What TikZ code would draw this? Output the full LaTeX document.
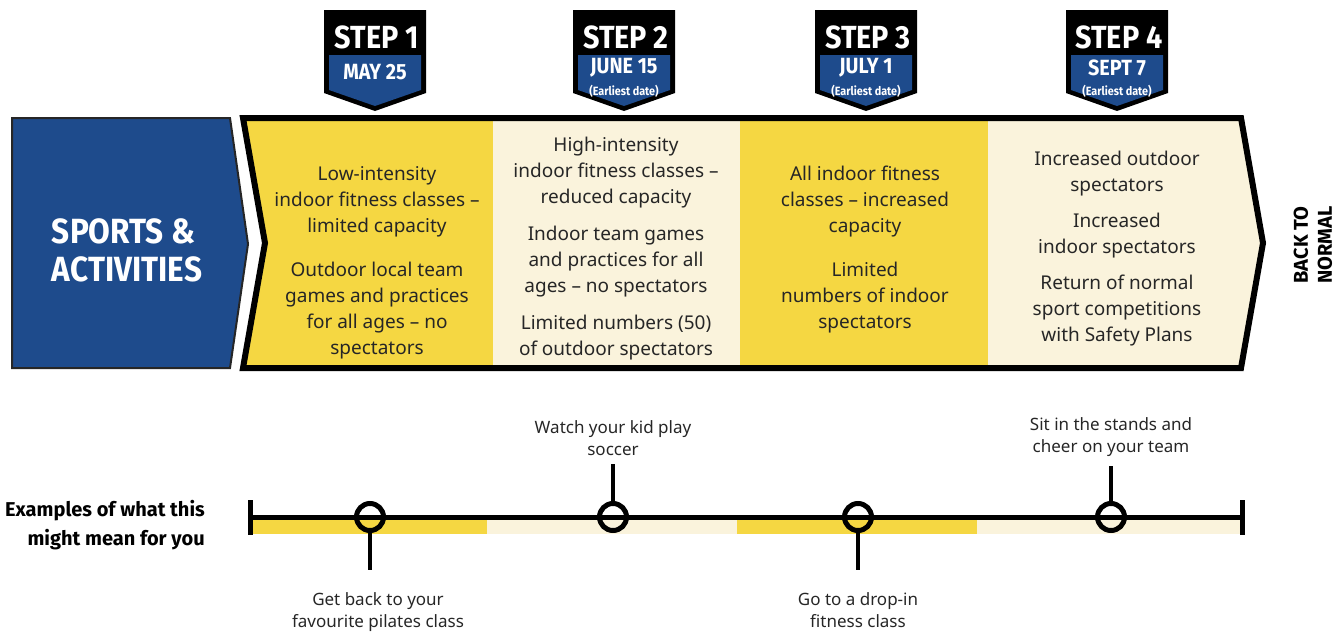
\documentclass[tikz,border=0pt]{standalone}
\usepackage{fontspec}
\setmainfont{Noto Sans}
\newfontfamily\stepfont[FakeStretch=0.9]{Fira Sans Bold}
\newfontfamily\headfont{Fira Sans Bold}
\usetikzlibrary{positioning}
\definecolor{sportblue}{HTML}{1E4B8C}
\definecolor{stepyellow}{HTML}{F5D742}
\definecolor{stepcream}{HTML}{FAF3DC}
\definecolor{inkgrey}{HTML}{262626}

\tikzset{
    coltext/.style={align=center, inner sep=0pt, text=inkgrey,
        font=\fontsize{19}{26}\selectfont},
    steptitle/.style={inner sep=0pt, text=white,
        font=\stepfont\fontsize{32}{32}\selectfont},
    stepdate/.style={inner sep=0pt, text=white,
        font=\stepfont\fontsize{22}{22}\selectfont},
    stepnote/.style={inner sep=0pt, text=white,
        font=\stepfont\fontsize{12}{12}\selectfont},
    ring/.style={circle, draw=black, line width=5pt, minimum size=27pt, inner sep=0pt},
    stem/.style={line width=4pt},
    tlabel/.style={align=center, inner sep=0pt, text=inkgrey,
        font=\fontsize{17}{22}\selectfont},
}

\begin{document}
\begin{tikzpicture}[x=1pt,y=-1pt]
        \useasboundingbox (0,0) rectangle (1341,632);
        \clip (0,0) rectangle (1341,632);

        % Badges
        \fill[black] (324,10) -- (426,10) -- (426,93) -- (375,111) -- (324,93) -- cycle;
        \fill[sportblue] (329,55) -- (421,55) -- (421,90) -- (375,106) -- (329,90) -- cycle;
        \fill[black] (573,10) -- (675,10) -- (675,93) -- (624,111) -- (573,93) -- cycle;
        \fill[sportblue] (578,55) -- (670,55) -- (670,90) -- (624,106) -- (578,90) -- cycle;
        \fill[black] (815,10) -- (917,10) -- (917,93) -- (866,111) -- (815,93) -- cycle;
        \fill[sportblue] (820,55) -- (912,55) -- (912,90) -- (866,106) -- (820,90) -- cycle;
        \fill[black] (1066,10) -- (1168,10) -- (1168,93) -- (1117,111) -- (1066,93) -- cycle;
        \fill[sportblue] (1071,55) -- (1163,55) -- (1163,90) -- (1117,106) -- (1071,90) -- cycle;

        \node[steptitle] (s1) at (377,37) {STEP 1};
        \node[stepdate]  (d1) at (375,72) {MAY 25};
        \node[steptitle] (s2) at (626,37) {STEP 2};
        \node[stepdate]  (d2) at (624,68) {JUNE 15};
        \node[stepnote]  (n2) at (624,91) {(Earliest date)};
        \node[steptitle] (s3) at (868,37) {STEP 3};
        \node[stepdate]  (d3) at (866,68) {JULY 1};
        \node[stepnote]  (n3) at (866,91) {(Earliest date)};
        \node[steptitle] (s4) at (1119,37) {STEP 4};
        \node[stepdate]  (d4) at (1117,68) {SEPT 7};
        \node[stepnote]  (n4) at (1117,91) {(Earliest date)};

        % Sports box
        \filldraw[fill=sportblue, draw=inkgrey, line width=2pt, line join=miter]
            (12,118) -- (230,118) -- (248,244) -- (230,368) -- (12,368) -- cycle;
        \node[align=left, inner sep=0pt, text=white,
            font=\stepfont\fontsize{35}{38}\selectfont] (sa) at (127,250)
            {SPORTS \&\\ACTIVITIES};

        % Step band
        \begin{scope}
            \clip (243,118) -- (1241,118) -- (1263,243) -- (1241,368) -- (243,368) -- (265,243) -- cycle;
            \fill[stepyellow] (230,110) rectangle (493,380);
            \fill[stepcream]  (493,110) rectangle (740,380);
            \fill[stepyellow] (740,110) rectangle (988,380);
            \fill[stepcream]  (988,110) rectangle (1270,380);
        \end{scope}
        \draw[line width=6pt, line join=miter]
            (243,118) -- (1241,118) -- (1263,243) -- (1241,368) -- (243,368) -- (265,243) -- cycle;

        \node[coltext] (x1) at (377,263) {Low-intensity\\indoor fitness classes --\\limited capacity\\[18pt]%
            Outdoor local team\\games and practices\\for all ages -- no\\spectators};
        \node[coltext] (x2) at (616,249) {High-intensity\\indoor fitness classes --\\reduced capacity\\[11pt]%
            Indoor team games\\and practices for all\\ages -- no spectators\\[11pt]%
            Limited numbers (50)\\of outdoor spectators};
        \node[coltext] (x3) at (865,250) {All indoor fitness\\classes -- increased\\capacity\\[18pt]%
            Limited\\numbers of indoor\\spectators};
        \node[coltext] (x4) at (1117,249) {Increased outdoor\\spectators\\[10pt]%
            Increased\\indoor spectators\\[10pt]%
            Return of normal\\sport competitions\\with Safety Plans};

        \node[rotate=90, align=center, inner sep=0pt, text=black,
            font=\headfont\fontsize{20}{24}\selectfont] (bn) at (1313,245) {BACK TO\\NORMAL};

        % Timeline
        \node[align=right, anchor=east, inner sep=0pt, text=black,
            font=\headfont\fontsize{20}{29}\selectfont] (ex) at (205,525)
            {Examples of what this\\might mean for you};

        \fill[stepyellow] (252,519) rectangle (487,534);
        \fill[stepcream]  (487,519) rectangle (737,534);
        \fill[stepyellow] (737,519) rectangle (977,534);
        \fill[stepcream]  (977,519) rectangle (1240,534);

        \coordinate (t0) at (250,517);
        \coordinate (t1) at (1242,517);
        \draw[line width=5pt] (t0) -- (t1);
        \draw[line width=5pt] ([yshift=17pt]t0) -- ([yshift=-18pt]t0);
        \draw[line width=5pt] ([yshift=17pt]t1) -- ([yshift=-18pt]t1);

        \node[ring] (c1) at (370,517) {};
        \node[ring] (c2) at (613,517) {};
        \node[ring] (c3) at (858,517) {};
        \node[ring] (c4) at (1111,517) {};

        \coordinate (e1) at (370,570);
        \coordinate (e2) at (613,464);
        \coordinate (e3) at (858,570);
        \coordinate (e4) at (1111,466);
        \draw[stem] (c1.south) -- (e1);
        \draw[stem] (c2.north) -- (e2);
        \draw[stem] (c3.south) -- (e3);
        \draw[stem] (c4.north) -- (e4);

        \node[tlabel, below=22pt of e1, xshift=8pt] (l1) {Get back to your\\favourite pilates class};
        \node[tlabel, above=8pt of e2] (l2) {Watch your kid play\\soccer};
        \node[tlabel, below=22pt of e3] (l3) {Go to a drop-in\\fitness class};
        \node[tlabel, above=9pt of e4] (l4) {Sit in the stands and\\cheer on your team};
    \end{tikzpicture}
\end{document}
